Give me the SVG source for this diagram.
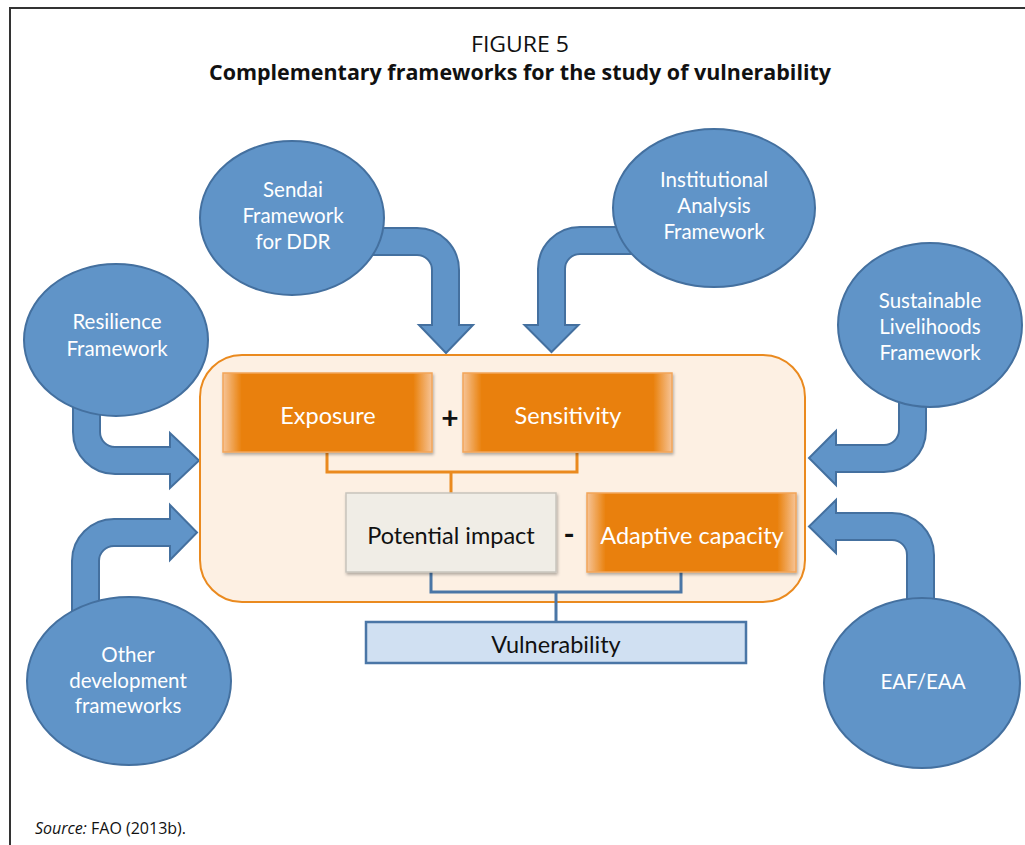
<svg xmlns="http://www.w3.org/2000/svg" width="1025" height="845" viewBox="0 0 1025 845">
<style>
.frame{fill:none;stroke:#333;stroke-width:2}
.ell{fill:#6094c8;stroke:#44709f;stroke-width:2}
.rib{fill:#6094c8;stroke:#44709f;stroke-width:2;stroke-linejoin:miter}
.wt{font-family:Lato,"Open Sans",sans-serif;font-size:20.5px;fill:#ffffff;text-anchor:middle}
.it{font-family:Lato,"Open Sans",sans-serif;font-size:23.5px;fill:#ffffff;text-anchor:middle}
.bt{font-family:Lato,"Open Sans",sans-serif;font-size:23.5px;fill:#111;text-anchor:middle}
.ob{fill:url(#og);stroke:#f2a55a;stroke-width:1.5}
.oc{fill:none;stroke:#ea8a1f;stroke-width:3}
.bc{fill:none;stroke:#4a76a6;stroke-width:3}
</style>
<defs>
<linearGradient id="og" x1="0" y1="0" x2="1" y2="0">
<stop offset="0" stop-color="#f6c497"/>
<stop offset="0.09" stop-color="#e9800a"/>
<stop offset="0.91" stop-color="#e9800a"/>
<stop offset="1" stop-color="#f6c497"/>
</linearGradient>
<filter id="sh" x="-10%" y="-10%" width="125%" height="130%">
<feDropShadow dx="1" dy="2" stdDeviation="1.5" flood-color="#000" flood-opacity="0.3"/>
</filter>
</defs>
<rect width="1025" height="845" fill="#ffffff"/>
<path class="frame" d="M10 845 V8 H1025"/>
<text x="520" y="52" font-family="'Open Sans','Noto Sans',sans-serif" font-size="21" fill="#111" text-anchor="middle" textLength="98" lengthAdjust="spacingAndGlyphs">FIGURE 5</text>
<text x="520" y="80" font-family="'Open Sans','Noto Sans',sans-serif" font-size="21" font-weight="bold" fill="#111" text-anchor="middle" textLength="622" lengthAdjust="spacingAndGlyphs">Complementary frameworks for the study of vulnerability</text>

<g id="connectors">
<path class="rib" d="M350 228 H417 A42 42 0 0 1 459 270 V325 H473 L446 353 L419 325 H432 V270 A15 15 0 0 0 417 255 H350 Z"/>
<path class="rib" d="M660 227 H580 A42 42 0 0 0 538 269 V325 H524.5 L551.5 352 L578.5 325 H565 V269 A15 15 0 0 1 580 254 H660 Z"/>
<path class="rib" d="M73 380 V432 A42 42 0 0 0 115 474 H170 V488 L199 460.5 L170 433 V447 H115 A15 15 0 0 1 100 432 V380 Z"/>
<path class="rib" d="M72 640 V561 A42 42 0 0 1 114 519 H170 V505 L197 532.5 L170 560 V546 H114 A15 15 0 0 0 99 561 V640 Z"/>
<path class="rib" d="M926 390 V430 A42 42 0 0 1 884 472 H836 V485 L809 458 L836 431 V445 H884 A15 15 0 0 0 899 430 V390 Z"/>
<path class="rib" d="M934 640 V555 A42 42 0 0 0 892 513 H836 V500 L809 526.5 L836 553 V540 H892 A15 15 0 0 1 907 555 V640 Z"/>
</g>

<g id="container">
<rect x="200" y="355" width="605" height="247" rx="42" fill="#fdf0e3" stroke="#ea8a1f" stroke-width="2"/>
</g>

<g id="inner-connectors">
<path class="oc" d="M327 453 V472 H577 V453 M451 472 V493"/>
<path class="bc" d="M431 572 V592 H681 V572 M556 592 V622"/>
</g>

<g id="sendai">
<ellipse class="ell" cx="292" cy="218" rx="92" ry="77"/>
<text class="wt" x="293" y="197">Sendai</text>
<text class="wt" x="293" y="223">Framework</text>
<text class="wt" x="293" y="249">for DDR</text>
</g>
<g id="institutional">
<ellipse class="ell" cx="714" cy="208" rx="101" ry="79"/>
<text class="wt" x="714" y="187">Institutional</text>
<text class="wt" x="714" y="213">Analysis</text>
<text class="wt" x="714" y="239">Framework</text>
</g>
<g id="resilience">
<ellipse class="ell" cx="116" cy="340" rx="92" ry="76"/>
<text class="wt" x="117" y="329">Resilience</text>
<text class="wt" x="117" y="356">Framework</text>
</g>
<g id="sustainable">
<ellipse class="ell" cx="930" cy="325" rx="92" ry="82"/>
<text class="wt" x="930" y="308">Sustainable</text>
<text class="wt" x="930" y="334">Livelihoods</text>
<text class="wt" x="930" y="360">Framework</text>
</g>
<g id="other">
<ellipse class="ell" cx="129" cy="681" rx="102" ry="84"/>
<text class="wt" x="128" y="662">Other</text>
<text class="wt" x="128" y="688">development</text>
<text class="wt" x="128" y="713">frameworks</text>
</g>
<g id="eaf">
<ellipse class="ell" cx="922" cy="683" rx="98" ry="85"/>
<text class="wt" x="923" y="689">EAF/EAA</text>
</g>

<g id="exposure">
<rect class="ob" x="223" y="373" width="209" height="79" filter="url(#sh)"/>
<text class="it" x="328" y="424">Exposure</text>
</g>
<text x="450" y="429" font-family="Lato,'Open Sans',sans-serif" font-size="30" font-weight="bold" fill="#111" text-anchor="middle">+</text>
<g id="sensitivity">
<rect class="ob" x="463" y="373" width="209" height="79" filter="url(#sh)"/>
<text class="it" x="568" y="424">Sensitivity</text>
</g>
<g id="potential">
<rect x="346" y="493" width="210" height="79" fill="#f0ede6" stroke="#c8c4bc" stroke-width="1.5" filter="url(#sh)"/>
<text class="bt" x="451" y="544">Potential impact</text>
</g>
<text x="569" y="545" font-family="Lato,'Open Sans',sans-serif" font-size="30" font-weight="bold" fill="#111" text-anchor="middle">-</text>
<g id="adaptive">
<rect class="ob" x="587" y="493" width="209" height="79" filter="url(#sh)"/>
<text class="it" x="692" y="544">Adaptive capacity</text>
</g>
<g id="vulnerability">
<rect x="366" y="622" width="380" height="41" fill="#d0e0f2" stroke="#4a76a6" stroke-width="2.5"/>
<text class="bt" x="556" y="653">Vulnerability</text>
</g>

<text x="35" y="834" font-family="'Open Sans','Noto Sans',sans-serif" font-size="16" fill="#111"><tspan font-style="italic">Source:</tspan> FAO (2013b).</text>
</svg>
